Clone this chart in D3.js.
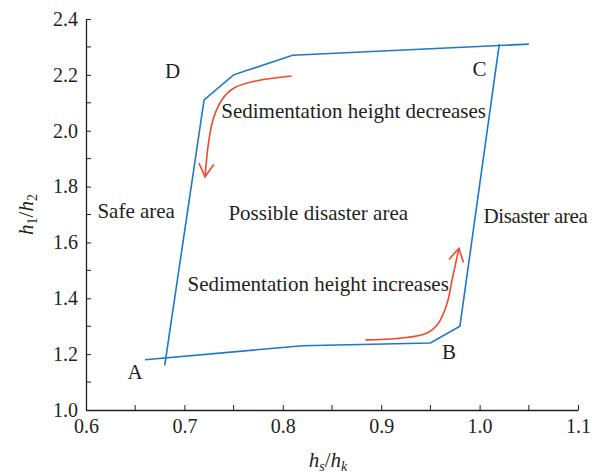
<!DOCTYPE html>
<html>
<head>
<meta charset="utf-8">
<script src="https://cdn.jsdelivr.net/npm/d3@7"></script>
<style>
  body { margin: 0; background: #fff; }
  text { font-family: "Liberation Serif", "Times New Roman", serif; fill: #231f20; }
</style>
</head>
<body>
<div id="chart"></div>
<script>
// loading path A -> B -> C (h1/h2 rises with hs/hk)
loadX = [0.66, 0.82, 0.95, 0.98, 1.02];
loadY = [1.18, 1.23, 1.24, 1.30, 2.31];
// unloading path C -> D -> A
unloadX = [1.05, 0.81, 0.75, 0.72, 0.68];
unloadY = [2.31, 2.27, 2.20, 2.11, 1.16];

// red arrows
decX = [0.809, 0.774, 0.750, 0.738, 0.729, 0.724, 0.721];
decY = [2.196, 2.179, 2.152, 2.110, 2.038, 1.943, 1.835];
incX = [0.884, 0.919, 0.946, 0.958, 0.967, 0.972, 0.979];
incY = [1.251, 1.257, 1.275, 1.310, 1.382, 1.465, 1.579];

xTicks = [0.6, 0.7, 0.8, 0.9, 1.0, 1.1];
yTicks = [1.0, 1.2, 1.4, 1.6, 1.8, 2.0, 2.2, 2.4];

labelText = ["D", "C", "A", "B", "Safe area", "Possible disaster area", "Disaster area",
             "Sedimentation height decreases", "Sedimentation height increases"];
labelX = [0.688, 1.000, 0.650, 0.969, 0.651, 0.836, 1.004, 0.872, 0.836];
labelY = [2.190, 2.196, 1.111, 1.183, 1.686, 1.680, 1.671, 2.044, 1.427];
labelAnchor = ["middle", "middle", "middle", "middle", "middle", "middle", "start", "middle", "middle"];

margin = ({top: 19, right: 14, bottom: 66, left: 86});
width = 592;
height = 476;
visWidth = width - margin.left - margin.right;
visHeight = height - margin.top - margin.bottom;
blue = "#1f78c8";
red = "#ef4b2b";

function draw() {
  const svg = d3.select("#chart")
    .append("svg")
    .attr("width", width)
    .attr("height", height);

  const g = svg.append("g")
    .attr("transform", `translate(${margin.left}, ${margin.top})`);

  const x = d3.scaleLinear().domain([0.6, 1.1]).range([0, visWidth]);
  const y = d3.scaleLinear().domain([1.0, 2.4]).range([visHeight, 0]);

  // minor ticks every half step, inward
  const xMinor = d3.range(0.65, 1.1, 0.1);
  const yMinor = d3.range(1.1, 2.4, 0.2);

  const xAxis = g.append("g")
    .attr("transform", `translate(0, ${visHeight})`)
    .call(d3.axisBottom(x).tickValues(xTicks).tickFormat(d3.format(".1f")).tickSizeInner(-5).tickSizeOuter(0).tickPadding(9));
  xAxis.append("g").selectAll("line")
    .data(xMinor)
    .join("line")
      .attr("x1", d => x(d)).attr("x2", d => x(d))
      .attr("y1", 0).attr("y2", -5)
      .attr("stroke", "#231f20");

  const yAxis = g.append("g")
    .call(d3.axisLeft(y).tickValues(yTicks).tickFormat(d3.format(".1f")).tickSizeInner(-5).tickSizeOuter(0).tickPadding(8));
  yAxis.append("g").selectAll("line")
    .data(yMinor)
    .join("line")
      .attr("y1", d => y(d)).attr("y2", d => y(d))
      .attr("x1", 0).attr("x2", 5)
      .attr("stroke", "#231f20");

  g.selectAll(".domain").attr("stroke", "#231f20").attr("stroke-width", 1.3);
  g.selectAll(".tick line").attr("stroke", "#231f20");
  g.selectAll(".tick text")
    .attr("font-family", "Liberation Serif")
    .attr("font-size", 20)
    .attr("fill", "#231f20");

  // axis titles
  const xt = svg.append("text")
    .attr("x", margin.left + x(0.846))
    .attr("y", 467)
    .attr("text-anchor", "middle")
    .attr("font-size", 21);
  xt.append("tspan").attr("font-style", "italic").text("h");
  xt.append("tspan").attr("font-style", "italic").attr("font-size", 14).attr("dy", 4).text("s");
  xt.append("tspan").attr("dy", -4).text("/");
  xt.append("tspan").attr("font-style", "italic").text("h");
  xt.append("tspan").attr("font-style", "italic").attr("font-size", 14).attr("dy", 4).text("k");

  const yt = svg.append("text")
    .attr("transform", `translate(33, ${margin.top + y(1.70)}) rotate(-90)`)
    .attr("text-anchor", "middle")
    .attr("font-size", 21);
  yt.append("tspan").attr("font-style", "italic").text("h");
  yt.append("tspan").attr("font-size", 14).attr("dy", 4).text("1");
  yt.append("tspan").attr("dy", -4).text("/");
  yt.append("tspan").attr("font-style", "italic").text("h");
  yt.append("tspan").attr("font-size", 14).attr("dy", 4).text("2");

  // blue paths
  const line = d3.line().x(d => x(d[0])).y(d => y(d[1]));
  [[loadX, loadY], [unloadX, unloadY]].forEach(([xs, ys]) => {
    g.append("path")
      .datum(d3.zip(xs, ys))
      .attr("d", line)
      .attr("fill", "none")
      .attr("stroke", blue)
      .attr("stroke-width", 1.6);
  });

  // red arrows with open heads
  const curve = d3.line().curve(d3.curveCatmullRom).x(d => x(d[0])).y(d => y(d[1]));
  [[decX, decY], [incX, incY]].forEach(([xs, ys]) => {
    const pts = d3.zip(xs, ys);
    g.append("path")
      .datum(pts)
      .attr("d", curve)
      .attr("fill", "none")
      .attr("stroke", red)
      .attr("stroke-width", 1.6);
    const n = pts.length;
    const tx = x(pts[n - 1][0]), ty = y(pts[n - 1][1]);
    const px = x(pts[n - 2][0]), py = y(pts[n - 2][1]);
    const ang = Math.atan2(ty - py, tx - px);
    const len = 15, spread = 0.52;
    const head = [
      [tx - len * Math.cos(ang - spread), ty - len * Math.sin(ang - spread)],
      [tx, ty],
      [tx - len * Math.cos(ang + spread), ty - len * Math.sin(ang + spread)]
    ];
    g.append("path")
      .attr("d", d3.line()(head))
      .attr("fill", "none")
      .attr("stroke", red)
      .attr("stroke-width", 1.6);
  });

  // annotations
  g.selectAll(".label")
    .data(d3.range(labelText.length))
    .join("text")
      .attr("class", "label")
      .attr("x", i => x(labelX[i]))
      .attr("y", i => y(labelY[i]))
      .attr("text-anchor", i => labelAnchor[i])
      .attr("font-size", 21)
      // squeeze the right-hand label a little so it stays inside the frame
      .attr("letter-spacing", i => labelText[i] === "Disaster area" ? -0.4 : null)
      .text(i => labelText[i]);
}

window.onload = draw;
</script>
</body>
</html>
